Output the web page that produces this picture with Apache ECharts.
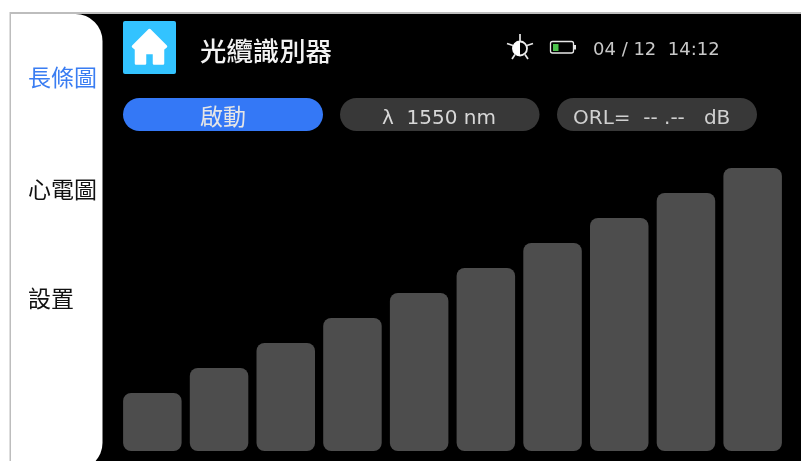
<!DOCTYPE html>
<html>
<head>
<meta charset="utf-8">
<style>html,body{margin:0;padding:0;background:#fff;overflow:hidden}#c{width:801px;height:461px}</style>
<script src="https://cdn.jsdelivr.net/npm/echarts@6/dist/echarts.min.js"></script>
</head>
<body>
<div id="c"></div>
<script>
const categories = ['1','2','3','4','5','6','7','8','9','10'];
const barValues = [58, 83, 108, 133, 158, 183, 208, 233, 258, 283];
const navLabels = ['長條圖', '心電圖', '設置'];
const titleText = '光纜識別器';
const startText = '啟動';
const waveText = 'λ  1550 nm';
const orlText = 'ORL=  -- .--   dB';
const clockText = '04 / 12  14:12';

const CJK = '"Noto Sans CJK TC","Noto Sans",sans-serif';
const LAT = '"DejaVu Sans",sans-serif';
const txt = (x, y, text, size, fill, align, font, weight) => ({
  type: 'text', x, y, z: 5,
  style: { text, fontSize: size, fontWeight: weight || 'normal', fill, align: align || 'left', verticalAlign: 'middle', fontFamily: font || CJK }
});
const pill = (x, w, fill) => ({
  type: 'rect', z: 3, shape: { x, y: 98, width: w, height: 33, r: 16.5 }, style: { fill }
});
const ray = (x1, y1, x2, y2) => ({
  type: 'line', z: 5, shape: { x1, y1, x2, y2 }, style: { stroke: '#e8e8e8', lineWidth: 1.7 }
});

const chart = echarts.init(document.getElementById('c'), null, { renderer: 'canvas' });
chart.setOption({
  animation: false,
  backgroundColor: '#fff',
  grid: { left: 119, right: 15, top: 151, bottom: 10 },
  xAxis: { type: 'category', data: categories, show: false },
  yAxis: { type: 'value', min: 0, max: 300, show: false },
  series: [{
    type: 'bar', data: barValues, barWidth: 58.5, z: 4,
    itemStyle: { color: '#4d4d4d', borderRadius: 8 }
  }],
  graphic: [
    { type: 'rect', z: -2, silent: true, shape: { x: 9.5, y: 12, width: 792, height: 449 }, style: { fill: '#bdbdbd' } },
    { type: 'rect', z: -1, silent: true, shape: { x: 11, y: 14, width: 790, height: 447 }, style: { fill: '#000' } },
    { type: 'rect', z: 1, shape: { x: 11, y: 14, width: 91.5, height: 456, r: [0, 27, 27, 0] }, style: { fill: '#fff' } },
    txt(28, 77, navLabels[0], 23, '#3a7df2'),
    txt(28, 189, navLabels[1], 23, '#111'),
    txt(28, 298, navLabels[2], 23, '#111'),
    { type: 'rect', z: 3, shape: { x: 123, y: 21, width: 53, height: 53, r: 2 }, style: { fill: '#33c3ff' } },
    { type: 'polygon', z: 4, shape: { points: [[149.5, 30], [166, 46.5], [163, 49], [163, 63.5], [154, 63.5], [154, 53], [145, 53], [145, 63.5], [136, 63.5], [136, 49], [133, 46.5]] }, style: { fill: '#fff', stroke: '#fff', lineWidth: 2.5, lineJoin: 'round' } },
    txt(200, 51, titleText, 26.4, '#f2f2f2', 'left', CJK, 500),
    pill(123, 200, '#3478f6'), pill(340, 199.5, '#383838'), pill(557, 200, '#383838'),
    txt(223, 116, startText, 23, '#e6e6e6', 'center'),
    txt(382, 118.5, waveText, 20, '#d8d8d8', 'left', LAT),
    txt(573, 118.5, orlText, 20, '#d0d0d0', 'left', LAT),
    txt(593, 50.5, clockText, 18, '#c8c8c8', 'left', LAT),
    { type: 'circle', z: 5, shape: { cx: 520, cy: 48.5, r: 7 }, style: { fill: '#000', stroke: '#eee', lineWidth: 1.8 } },
    { type: 'sector', z: 6, shape: { cx: 520, cy: 48.5, r: 7.5, r0: 0, startAngle: Math.PI / 2, endAngle: Math.PI * 1.5 }, style: { fill: '#fff' } },
    ray(520, 34, 520, 41), ray(507, 43.5, 513, 45.5), ray(533, 43.5, 527, 45.5),
    ray(512, 59, 515, 54.5), ray(528, 59, 525, 54.5),
    { type: 'rect', z: 5, shape: { x: 550.5, y: 41.5, width: 23, height: 11.5, r: 2 }, style: { fill: '#000', stroke: '#e8e8e8', lineWidth: 1.3 } },
    { type: 'rect', z: 6, shape: { x: 553, y: 44, width: 5.5, height: 7 }, style: { fill: '#4cc24c' } },
    { type: 'rect', z: 5, shape: { x: 573.5, y: 45, width: 2.5, height: 4.5 }, style: { fill: '#e8e8e8' } }
  ]
});
</script>
</body>
</html>
